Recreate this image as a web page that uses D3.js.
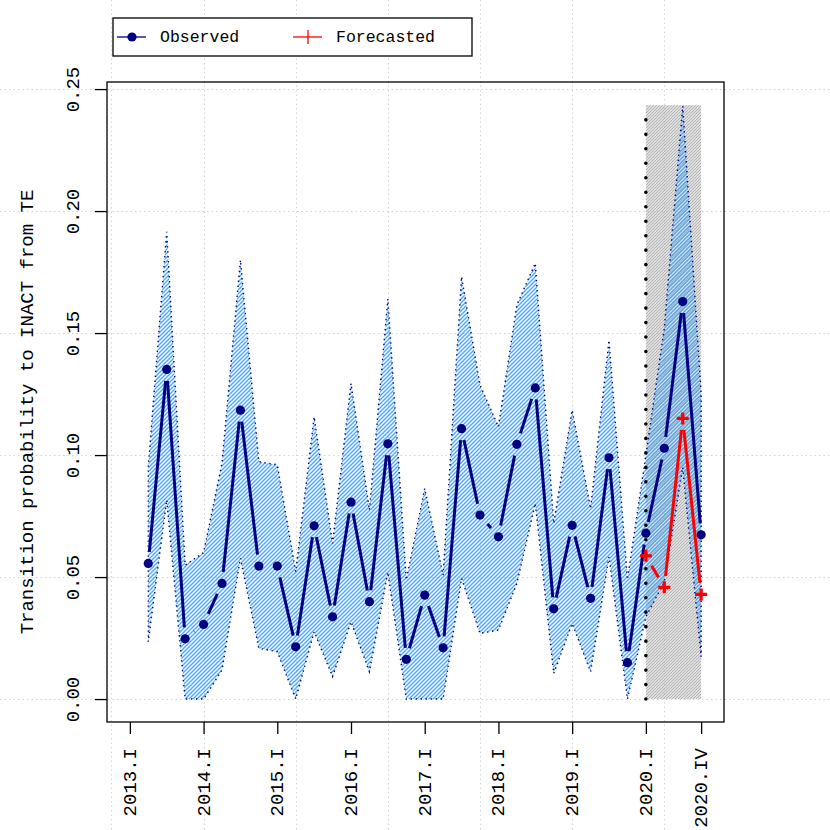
<!DOCTYPE html>
<html>
<head>
<meta charset="utf-8">
<script src="https://cdn.jsdelivr.net/npm/d3@7"></script>
<style>
  body { margin: 0; background: #fff; }
  svg { display: block; }
  text { font-family: "Liberation Mono", "DejaVu Sans Mono", monospace; fill: #000; }
</style>
</head>
<body>
<script>
// quarters 2013.I .. 2020.IV, data starts at 2013.II
var quarters = ["2013.I","2013.II","2013.III","2013.IV","2014.I","2014.II","2014.III","2014.IV",
  "2015.I","2015.II","2015.III","2015.IV","2016.I","2016.II","2016.III","2016.IV",
  "2017.I","2017.II","2017.III","2017.IV","2018.I","2018.II","2018.III","2018.IV",
  "2019.I","2019.II","2019.III","2019.IV","2020.I","2020.II","2020.III","2020.IV"];

var tickLabels = ["2013.I","2014.I","2015.I","2016.I","2017.I","2018.I","2019.I","2020.I","2020.IV"];
var yTicks = [0, 0.05, 0.10, 0.15, 0.20, 0.25];

var observed = [0.0556,0.1351,0.0247,0.0306,0.0474,0.1184,0.0545,0.0545,0.0214,0.0710,
  0.0337,0.0807,0.0399,0.1046,0.0163,0.0426,0.0210,0.1108,0.0754,0.0665,
  0.1044,0.1275,0.0370,0.0712,0.0413,0.0989,0.0149,0.0680,0.1028,0.1629,0.0673];

var upper = [0.0952,0.1915,0.0549,0.0600,0.0967,0.1799,0.0973,0.0960,0.0522,0.1157,
  0.0638,0.1294,0.0775,0.1640,0.0488,0.0863,0.0508,0.1731,0.1287,0.1116,
  0.1615,0.1786,0.0720,0.1184,0.0781,0.1471,0.0490,0.1000,0.1520,0.2430,0.1250];

var lower = [0.0235,0.0816,0.0,0.0,0.0119,0.0577,0.0208,0.0194,0.0,0.0276,
  0.0092,0.0317,0.0112,0.0520,0.0,0.0,0.0,0.0495,0.0269,0.0283,
  0.0474,0.0802,0.0105,0.0310,0.0112,0.0583,0.0,0.0337,0.0480,0.0950,0.0173];

var forecastQuarters = ["2020.I","2020.II","2020.III","2020.IV"];
var forecast = [0.0587,0.0458,0.1150,0.0429];

var forecastTop = 0.2434;   // shaded forecast window
var markerTop = 0.238;      // dotted line at forecast start

var W = 830, H = 830;
var svg = d3.select("body").append("svg").attr("width", W).attr("height", H);

var x = d3.scaleLinear().domain([-1.24, 32.24]).range([107, 724]);
var y = d3.scaleLinear().domain([-0.0094, 0.2529]).range([722, 82]);
var qx = function(q){ return x(quarters.indexOf(q)); };

var defs = svg.append("defs");
function hatch(id, color, size, width){
  var p = defs.append("pattern").attr("id", id)
    .attr("patternUnits", "userSpaceOnUse").attr("width", size).attr("height", size);
  p.append("path")
    .attr("d", "M0," + size + "L" + size + ",0M" + (-size/2) + "," + (size/2) + "L" + (size/2) + "," + (-size/2) +
      "M" + (size/2) + "," + (size*1.5) + "L" + (size*1.5) + "," + (size/2))
    .attr("stroke", color).attr("stroke-width", width).attr("fill", "none");
}
hatch("blueHatch", "#4ea8f6", 4, 1.4);
hatch("grayHatch", "#b4b4b4", 3, 1.25);

// grid, spans whole figure
var gridX = [-1, 4, 9, 14, 19, 24, 29];
var grid = svg.append("g").attr("stroke", "#d4d4d4").attr("stroke-width", 1).attr("stroke-dasharray", "1.5,3");
grid.selectAll(".gy").data(yTicks).enter().append("line")
  .attr("x1", 0).attr("x2", W).attr("y1", d => Math.round(y(d)) + 0.5).attr("y2", d => Math.round(y(d)) + 0.5);
grid.selectAll(".gx").data(gridX).enter().append("line")
  .attr("y1", 0).attr("y2", H).attr("x1", d => Math.round(x(d)) + 0.5).attr("x2", d => Math.round(x(d)) + 0.5);

// forecast window
svg.append("rect")
  .attr("x", qx(forecastQuarters[0])).attr("y", y(forecastTop))
  .attr("width", qx(forecastQuarters[3]) - qx(forecastQuarters[0]))
  .attr("height", y(0) - y(forecastTop))
  .attr("fill", "url(#grayHatch)");

// confidence band
var bandPts = [];
observed.forEach(function(d, i){ bandPts.push([x(i + 1), y(upper[i])]); });
for (var i = observed.length - 1; i >= 0; i--) bandPts.push([x(i + 1), y(lower[i])]);
svg.append("path")
  .attr("d", d3.line()(bandPts) + "Z")
  .attr("fill", "url(#blueHatch)")
  .attr("stroke", "#000080").attr("stroke-width", 1.4).attr("stroke-dasharray", "1.4,3.6");

// dotted marker at forecast start
svg.append("line")
  .attr("x1", qx(forecastQuarters[0])).attr("x2", qx(forecastQuarters[0]))
  .attr("y1", y(0)).attr("y2", y(markerTop))
  .attr("stroke", "#000").attr("stroke-width", 3.6).attr("stroke-linecap", "round")
  .attr("stroke-dasharray", "0.01,14.47");

// type="b" style line: segments stop short of points
function gappedLine(pts, color, gap){
  var g = svg.append("g").attr("stroke", color).attr("stroke-width", 3);
  for (var k = 0; k < pts.length - 1; k++){
    var a = pts[k], b = pts[k + 1];
    var dx = b[0] - a[0], dy = b[1] - a[1], len = Math.sqrt(dx*dx + dy*dy);
    if (len <= 2 * gap) continue;
    var ux = dx / len, uy = dy / len;
    g.append("line")
      .attr("x1", a[0] + ux*gap).attr("y1", a[1] + uy*gap)
      .attr("x2", b[0] - ux*gap).attr("y2", b[1] - uy*gap);
  }
}

var obsPts = observed.map((d, i) => [x(i + 1), y(d)]);
var fcPts = forecast.map((d, i) => [qx(forecastQuarters[i]), y(d)]);

gappedLine(obsPts, "#000080", 11.5);
svg.append("g").selectAll("circle").data(obsPts).enter().append("circle")
  .attr("cx", d => d[0]).attr("cy", d => d[1]).attr("r", 4.6).attr("fill", "#000080");

gappedLine(fcPts, "#ff0000", 11.5);
svg.append("g").selectAll("path.fc").data(fcPts).enter().append("path")
  .attr("d", d => "M" + (d[0]-6) + "," + d[1] + "H" + (d[0]+6) + "M" + d[0] + "," + (d[1]-6) + "V" + (d[1]+6))
  .attr("stroke", "#ff0000").attr("stroke-width", 3.2).attr("fill", "none");

// box
svg.append("rect").attr("x", 107).attr("y", 82).attr("width", 617).attr("height", 640)
  .attr("fill", "none").attr("stroke", "#000").attr("stroke-width", 1.3);

// x axis
var xAxis = d3.axisBottom(x)
  .tickValues(tickLabels.map(t => quarters.indexOf(t)))
  .tickSize(12).tickSizeOuter(0)
  .tickFormat(d => quarters[d]);
var gx = svg.append("g").attr("transform", "translate(0,722)").call(xAxis);
gx.select(".domain").remove();
gx.selectAll(".tick line").attr("stroke", "#000").attr("stroke-width", 1.3);
gx.selectAll(".tick text")
  .attr("transform", "translate(5.5,26) rotate(-90)")
  .attr("x", 0).attr("y", 0).attr("dy", 0)
  .attr("text-anchor", "end")
  .style("font-size", "19px").style("font-family", "Liberation Mono");

// y axis
var yAxis = d3.axisLeft(y).tickValues(yTicks).tickSize(12).tickSizeOuter(0).tickFormat(d3.format(".2f"));
var gy = svg.append("g").attr("transform", "translate(107,0)").call(yAxis);
gy.select(".domain").remove();
gy.selectAll(".tick line").attr("stroke", "#000").attr("stroke-width", 1.3);
gy.selectAll(".tick text")
  .attr("transform", "translate(-28,0) rotate(-90)")
  .attr("x", 0).attr("y", 0).attr("dy", 0)
  .attr("text-anchor", "middle")
  .style("font-size", "19px").style("font-family", "Liberation Mono");

svg.append("text")
  .attr("transform", "translate(33,412) rotate(-90)")
  .attr("text-anchor", "middle")
  .style("font-size", "19px")
  .text("Transition probability to INACT from TE");

// legend
var lg = svg.append("g");
lg.append("rect").attr("x", 113).attr("y", 18).attr("width", 359).attr("height", 38)
  .attr("fill", "#fff").attr("stroke", "#000").attr("stroke-width", 1.3);
lg.append("line").attr("x1", 117).attr("x2", 146).attr("y1", 37).attr("y2", 37)
  .attr("stroke", "#000080").attr("stroke-width", 1.3);
lg.append("circle").attr("cx", 132).attr("cy", 37).attr("r", 4.6).attr("fill", "#000080");
lg.append("text").attr("x", 160).attr("y", 42).style("font-size", "16.5px").text("Observed");
lg.append("line").attr("x1", 293).attr("x2", 322).attr("y1", 37).attr("y2", 37)
  .attr("stroke", "#ff0000").attr("stroke-width", 1.3);
lg.append("line").attr("x1", 308).attr("x2", 308).attr("y1", 30).attr("y2", 44)
  .attr("stroke", "#ff0000").attr("stroke-width", 1.3);
lg.append("text").attr("x", 336).attr("y", 42).style("font-size", "16.5px").text("Forecasted");
</script>
</body>
</html>
